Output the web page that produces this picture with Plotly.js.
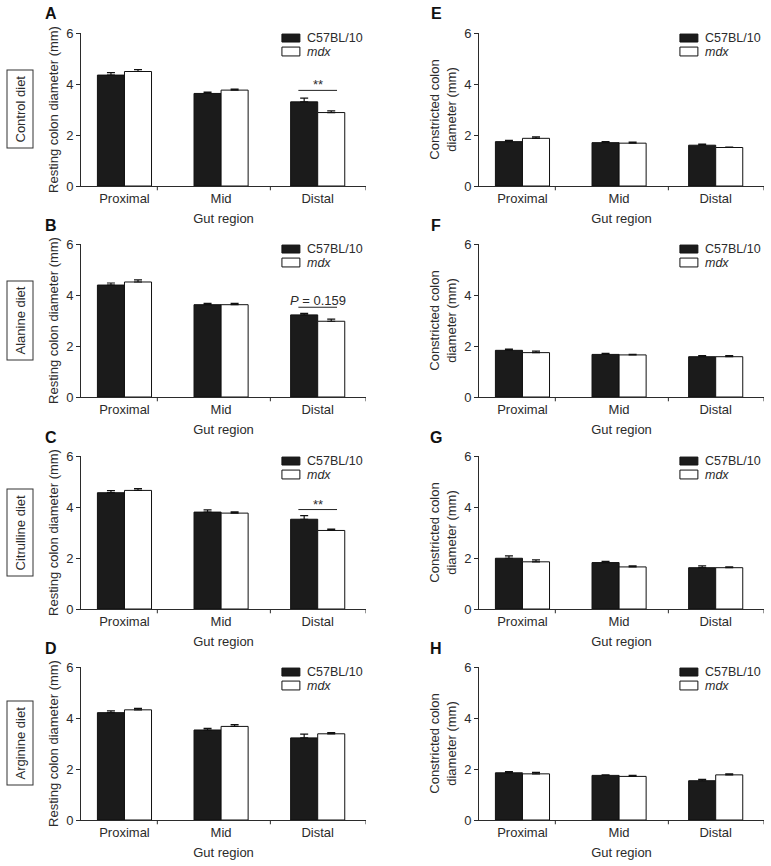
<!DOCTYPE html>
<html>
<head>
<meta charset="utf-8">
<script src="https://cdn.plot.ly/plotly-3.0.1.min.js"></script>
<style>
  html, body { margin: 0; padding: 0; background: #fff; }
  #chart { width: 771px; height: 866px; }
</style>
</head>
<body>
<div id="chart"></div>
<script>
const regions = ['Proximal', 'Mid', 'Distal'];
const diets = ['Control diet', 'Alanine diet', 'Citrulline diet', 'Arginine diet'];
const restingLetters = ['A', 'B', 'C', 'D'];
const constrictedLetters = ['E', 'F', 'G', 'H'];
const strains = ['C57BL/10', '<i>mdx</i>'];

// resting diameter (mm), rows = diets, cols = regions
const restingWt = [[4.35, 3.63, 3.30], [4.39, 3.62, 3.22], [4.56, 3.80, 3.52], [4.21, 3.53, 3.22]];
const restingWtSem = [[0.10, 0.05, 0.15], [0.08, 0.05, 0.06], [0.08, 0.09, 0.14], [0.07, 0.06, 0.15]];
const restingMdx = [[4.49, 3.76, 2.88], [4.51, 3.62, 2.97], [4.65, 3.76, 3.08], [4.32, 3.67, 3.38]];
const restingMdxSem = [[0.07, 0.04, 0.07], [0.08, 0.05, 0.08], [0.07, 0.05, 0.05], [0.06, 0.07, 0.05]];

// constricted diameter (mm)
const constrictedWt = [[1.74, 1.70, 1.60], [1.83, 1.67, 1.58], [1.99, 1.82, 1.62], [1.85, 1.75, 1.54]];
const constrictedWtSem = [[0.05, 0.04, 0.04], [0.05, 0.04, 0.04], [0.09, 0.05, 0.07], [0.05, 0.02, 0.05]];
const constrictedMdx = [[1.87, 1.68, 1.51], [1.74, 1.65, 1.58], [1.85, 1.65, 1.62], [1.81, 1.71, 1.77]];
const constrictedMdxSem = [[0.06, 0.04, 0.02], [0.06, 0.02, 0.04], [0.08, 0.04, 0.03], [0.06, 0.04, 0.04]];

// Distal comparison in the resting panels
const sigText = ['**', '<i>P</i> = 0.159', '**', ''];
const sigLevel = [3.75, 3.52, 3.90, null];

const yTicks = [0, 2, 4, 6];
const axisTickPositions = [0.34, 1.51, 2.5];

const W = 771;
const H = 866;
const FONT = 'Liberation Sans, Arial, Helvetica, sans-serif';
const INK = '#2b2b2b';
const plotTops = [33, 244, 456, 667];
const plotHeight = 153;
const columnX = [[81, 366], [479, 764]];

const traces = [];
const shapes = [];
const annotations = [];
const layout = {
  width: W,
  height: H,
  margin: { l: 0, r: 0, t: 0, b: 0 },
  paper_bgcolor: '#fff',
  plot_bgcolor: 'rgba(0,0,0,0)',
  font: { family: FONT, size: 13, color: INK },
  showlegend: false,
  barmode: 'group',
  bargap: 0.44,
  bargroupgap: 0
};

function addPanel(col, row) {
  const n = col * 4 + row + 1;
  const xName = n === 1 ? 'x' : 'x' + n;
  const yName = n === 1 ? 'y' : 'y' + n;
  const top = plotTops[row];
  const yDomain = [1 - (top + plotHeight) / H, 1 - top / H];
  const xDomain = [columnX[col][0] / W, columnX[col][1] / W];

  const wt = col === 0 ? restingWt[row] : constrictedWt[row];
  const wtSem = col === 0 ? restingWtSem[row] : constrictedWtSem[row];
  const mdx = col === 0 ? restingMdx[row] : constrictedMdx[row];
  const mdxSem = col === 0 ? restingMdxSem[row] : constrictedMdxSem[row];

  [[wt, wtSem, '#1b1b1b'], [mdx, mdxSem, '#ffffff']].forEach(([values, sem, fill], i) => {
    traces.push({
      type: 'bar',
      x: regions,
      y: values,
      name: strains[i],
      xaxis: xName,
      yaxis: yName,
      marker: { color: fill, line: { color: '#111', width: 1 } },
      error_y: {
        type: 'data',
        array: sem,
        arrayminus: sem.map(() => 0),
        symmetric: false,
        color: '#111',
        thickness: 1.2,
        width: 4
      },
      hoverinfo: 'skip'
    });
  });

  layout['xaxis' + (n === 1 ? '' : n)] = {
    domain: xDomain,
    anchor: yName,
    type: 'category',
    range: [-0.45, 2.5],
    showline: true,
    linecolor: INK,
    linewidth: 1,
    ticks: '',
    showgrid: false,
    zeroline: false,
    tickfont: { size: 13, color: INK },
    title: { text: 'Gut region', font: { size: 13, color: INK }, standoff: 9 },
    fixedrange: true
  };

  layout['yaxis' + (n === 1 ? '' : n)] = {
    domain: yDomain,
    anchor: xName,
    range: [0, 6],
    tickvals: yTicks,
    ticks: 'outside',
    ticklen: 4,
    tickcolor: INK,
    showline: true,
    linecolor: INK,
    linewidth: 1,
    showgrid: false,
    zeroline: false,
    tickfont: { size: 13, color: INK },
    title: {
      text: col === 0 ? 'Resting colon diameter (mm)' : 'Constricted colon<br>diameter (mm)',
      font: { size: 13, color: INK },
      standoff: 4
    },
    fixedrange: true
  };

  // Prism style axis ticks between the groups
  axisTickPositions.forEach((p) => {
    shapes.push({
      type: 'line', xref: xName, yref: yName + ' domain',
      x0: p, x1: p, y0: 0, y1: -0.028,
      line: { color: INK, width: 1 }
    });
  });

  // legend drawn in the corner of each panel
  const swatches = [['#1b1b1b', 0.993, 0.941], ['#ffffff', 0.908, 0.850]];
  swatches.forEach(([fill, y1, y0], i) => {
    shapes.push({
      type: 'rect', xref: xName + ' domain', yref: yName + ' domain',
      x0: 0.705, x1: 0.768, y0, y1,
      fillcolor: fill,
      line: { color: '#111', width: 1 }
    });
    annotations.push({
      xref: xName + ' domain', yref: yName + ' domain',
      x: 0.785, y: (y0 + y1) / 2,
      xanchor: 'left', yanchor: 'middle',
      text: strains[i], showarrow: false,
      font: { size: 12.5, color: INK }
    });
  });

  // panel letter
  annotations.push({
    xref: 'paper', yref: 'paper',
    x: (col === 0 ? 51 : 436) / W, y: 1 - (top - 19) / H,
    xanchor: 'center', yanchor: 'middle',
    text: '<b>' + (col === 0 ? restingLetters[row] : constrictedLetters[row]) + '</b>',
    showarrow: false,
    font: { size: 16, color: '#111' }
  });

  if (col === 0) {
    annotations.push({
      xref: 'paper', yref: 'paper',
      x: 20 / W, y: (yDomain[0] + yDomain[1]) / 2,
      xanchor: 'center', yanchor: 'middle',
      text: diets[row], textangle: -90, showarrow: false,
      bordercolor: '#333', borderwidth: 1, borderpad: 5,
      font: { size: 13, color: INK }
    });

    if (sigLevel[row] !== null) {
      shapes.push({
        type: 'line', xref: xName, yref: yName,
        x0: 1.8, x1: 2.2, y0: sigLevel[row], y1: sigLevel[row],
        line: { color: '#222', width: 1 }
      });
      annotations.push({
        xref: xName, yref: yName,
        x: 2, y: sigLevel[row],
        xanchor: 'center', yanchor: 'bottom',
        yshift: sigText[row] === '**' ? -4 : -3,
        text: sigText[row], showarrow: false,
        font: { size: 13, color: INK }
      });
    }
  }
}

for (let col = 0; col < 2; col += 1) {
  for (let row = 0; row < 4; row += 1) {
    addPanel(col, row);
  }
}

layout.shapes = shapes;
layout.annotations = annotations;

Plotly.newPlot('chart', traces, layout, { displayModeBar: false, staticPlot: true });
</script>
</body>
</html>
